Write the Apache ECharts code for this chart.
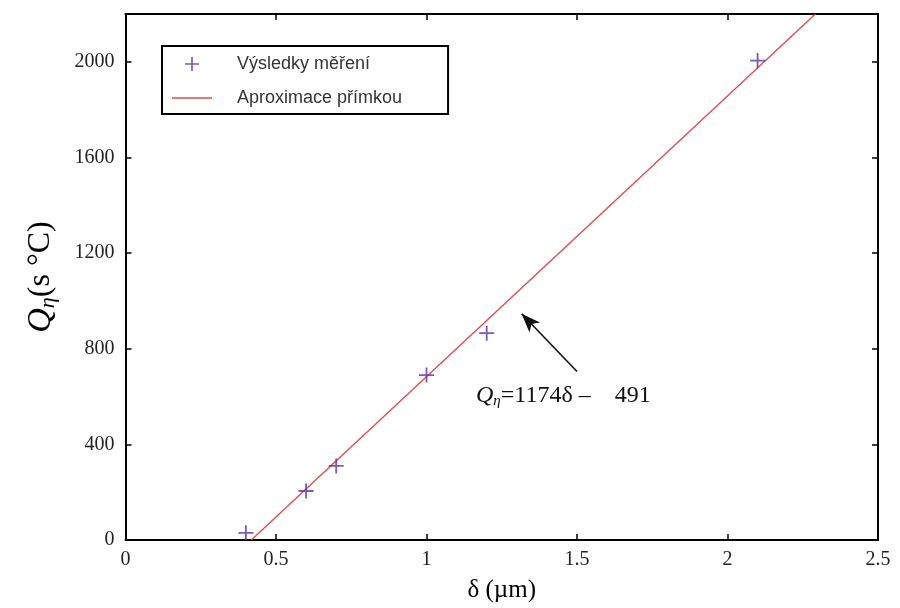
<!DOCTYPE html>
<html>
<head>
<meta charset="utf-8">
<script src="https://cdn.jsdelivr.net/npm/echarts@6/dist/echarts.min.js"></script>
<style>html,body{margin:0;padding:0;background:#fff;}#c{width:900px;height:608px;}</style>
</head>
<body>
<div id="c"></div>
<script>
// Data
const deltaValues = [0.4, 0.6, 0.7, 1.0, 1.2, 2.1];
const qValues = [30, 205, 310, 690, 865, 2005];
// Fitted line Q = 1174*delta - 491, endpoints (x-intercept, top edge)
const fitDelta = [0.418, 2.292];
const fitQ = [0, 2200];
// Annotation arrow (tail -> tip) in data units
const arrowTail = [1.50, 705];
const arrowTip = [1.316, 946];
const xTicks = [0, 0.5, 1, 1.5, 2, 2.5];
const yTicks = [0, 400, 800, 1200, 1600, 2000];

const chart = echarts.init(document.getElementById('c'));
const serif = '"Liberation Serif", "DejaVu Serif", serif';
const plus = 'path://M4.4,0H5.6V10H4.4Z M0,4.4H10V5.6H0Z';
// thin horizontal line icon; tiny corner specks keep the bounding box 40x14
const lineIcon = 'path://M0,0L0.01,0L0.01,0.01Z M0,6.2H40V7.8H0Z M40,14L39.99,14L39.99,13.99Z';
const markColor = '#5d2ea3';
const lineColor = '#e04848';
const gridOpt = {left: 125.5, right: 22, top: 14, bottom: 65};
const xAxisBase = {
  type: 'value', min: 0, max: 2.5, interval: 0.5,
  axisLine: {show: true, onZero: false, lineStyle: {color: '#000', width: 2}},
  axisTick: {show: true, inside: true, length: 6, lineStyle: {color: '#000', width: 1.5}},
  splitLine: {show: false}
};
const yAxisBase = {
  type: 'value', min: 0, max: 2200, interval: 400,
  axisLine: {show: true, onZero: false, lineStyle: {color: '#000', width: 2}},
  axisTick: {show: true, inside: true, length: 6, lineStyle: {color: '#000', width: 1.5}},
  splitLine: {show: false}
};
chart.setOption({
  animation: false,
  backgroundColor: '#fff',
  grid: gridOpt,
  legend: {
    orient: 'vertical', left: 162, top: 46,
    borderColor: '#000', borderWidth: 2,
    padding: [9, 46, 7, 10],
    itemGap: 16, itemWidth: 40, itemHeight: 14,
    textStyle: {fontFamily: '"Liberation Sans", Arial, sans-serif', fontSize: 18, color: '#333', padding: [0, 0, 0, 20]},
    data: [
      {name: 'Výsledky měření', icon: plus, itemStyle: {color: markColor}},
      {name: 'Aproximace přímkou', icon: lineIcon, itemStyle: {color: lineColor}}
    ]
  },
  xAxis: [
    Object.assign({}, xAxisBase, {
      position: 'bottom',
      name: 'δ (µm)', nameLocation: 'middle', nameGap: 38,
      nameTextStyle: {fontFamily: serif, fontSize: 25, color: '#000'},
      axisLabel: {fontFamily: serif, fontSize: 20, color: '#222', margin: 10,
        formatter: v => xTicks.includes(v) ? String(v) : ''}
    }),
    Object.assign({}, xAxisBase, {position: 'top', axisLabel: {show: false}})
  ],
  yAxis: [
    Object.assign({}, yAxisBase, {
      position: 'left',
      name: '{q|Q}{s|η}{n|(s °C)}', nameLocation: 'middle', nameGap: 66,
      nameTextStyle: {rich: {
        q: {fontFamily: serif, fontSize: 34, fontStyle: 'italic', color: '#000'},
        s: {fontFamily: serif, fontSize: 22, fontStyle: 'italic', color: '#000', padding: [15, 0, 0, 0]},
        n: {fontFamily: serif, fontSize: 32, color: '#000'}
      }},
      axisLabel: {fontFamily: serif, fontSize: 20, color: '#222', margin: 11,
        formatter: v => yTicks.includes(v) ? String(v) : ''}
    }),
    Object.assign({}, yAxisBase, {position: 'right', axisLabel: {show: false}})
  ],
  series: [
    {
      name: 'Výsledky měření', type: 'scatter',
      symbol: plus, symbolSize: 15,
      itemStyle: {color: markColor},
      data: deltaValues.map((d, i) => [d, qValues[i]]),
      z: 3
    },
    {
      name: 'Aproximace přímkou', type: 'line',
      symbol: 'none',
      lineStyle: {color: lineColor, width: 1.3},
      itemStyle: {color: lineColor},
      data: fitDelta.map((d, i) => [d, fitQ[i]]),
      markLine: {
        silent: true, animation: false,
        symbol: ['none', 'arrow'], symbolSize: [11, 19],
        lineStyle: {color: '#111', width: 1.6, type: 'solid'},
        label: {show: false},
        data: [[{coord: arrowTail}, {coord: arrowTip}]]
      },
      z: 2
    }
  ],
  graphic: [
    {
      type: 'text', left: 476, top: 384,
      style: {
        text: '{q|Q}{s|η}{n|=1174δ –    491}',
        rich: {
          q: {fontFamily: serif, fontSize: 24, fontStyle: 'italic', fill: '#111'},
          s: {fontFamily: serif, fontSize: 15, fontStyle: 'italic', fill: '#111', padding: [10, 0, 0, 0]},
          n: {fontFamily: serif, fontSize: 24, fill: '#111'}
        }
      }
    }
  ]
});
</script>
</body>
</html>
